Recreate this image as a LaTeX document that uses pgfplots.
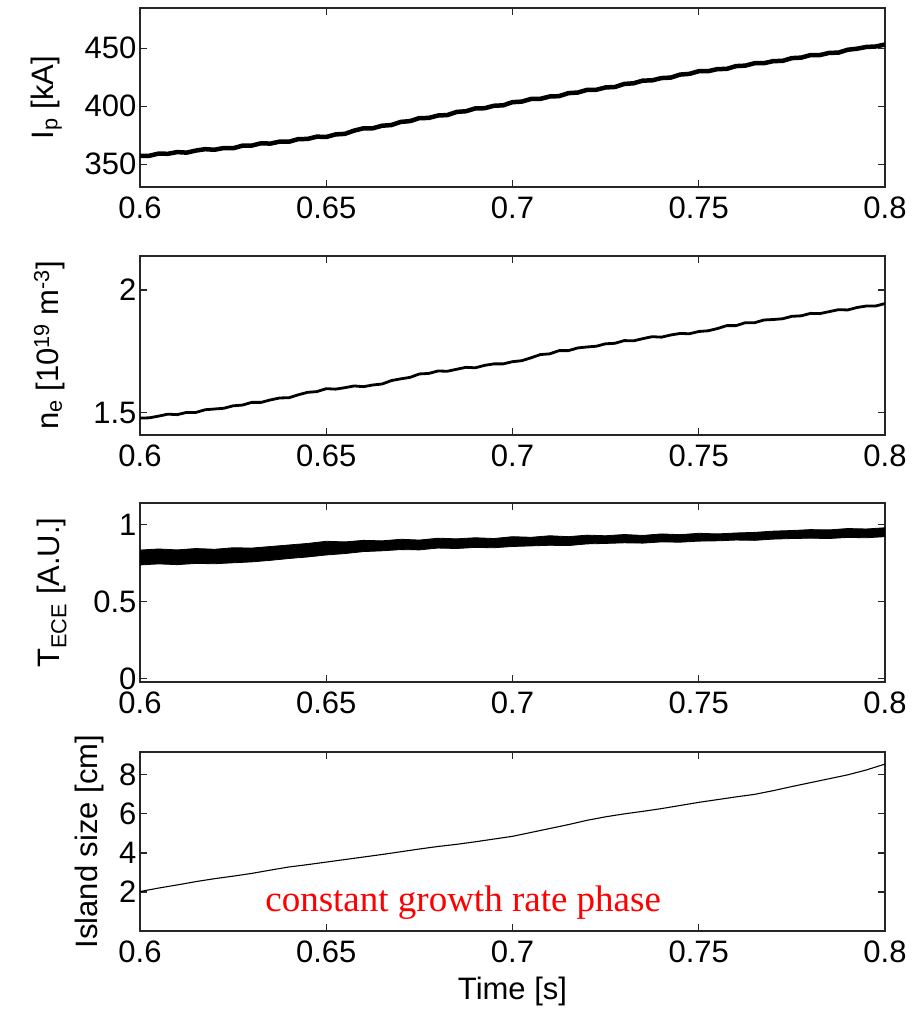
\documentclass[border=0pt]{standalone}
\usepackage{pgfplots}
\pgfplotsset{compat=1.18}
\usepackage{fontspec}
\setmainfont{Liberation Sans}
\newfontfamily\serifrm{Liberation Serif}
\begin{document}
\begin{tikzpicture}
\useasboundingbox (0pt,0pt) rectangle (919pt,1011pt);
\pgfplotsset{
 panel/.style={
  scale only axis, width=745pt, height=179pt,
  xmin=0.6, xmax=0.8,
  xtick={0.6,0.65,0.7,0.75,0.8},
  xticklabels={0.6,0.65,0.7,0.75,0.8},
  tick align=inside, major tick length=7pt,
  axis line style={line width=1.2pt, black!85},
  major tick style={line width=1.2pt, black!85},
  tick label style={font=\fontsize{31}{31}\selectfont},
  label style={font=\fontsize{31}{31}\selectfont},
  xticklabel style={yshift=-6pt},
  xlabel style={yshift=-8pt},
  ylabel shift=16pt,
  anchor=south west,
  clip=true,
 }
}
% ---------- Panel 1: plasma current ----------
\begin{axis}[panel, at={(140pt,824pt)}, ymin=330.4, ymax=484.7,
  ytick={350,400,450}, yticklabels={350,400,450},
  ylabel={I\textsubscript{p} [kA]}]
\addplot[black, line width=4.5pt, line join=round] table {
0.6000 357.2
0.6025 357.3
0.6050 359.2
0.6075 359.0
0.6100 360.5
0.6125 360.0
0.6150 361.8
0.6175 363.0
0.6200 362.5
0.6225 364.0
0.6250 363.8
0.6275 366.0
0.6300 366.1
0.6325 368.1
0.6350 367.8
0.6375 369.5
0.6400 369.4
0.6425 371.7
0.6450 371.8
0.6475 373.8
0.6500 373.5
0.6525 375.7
0.6550 376.2
0.6575 379.0
0.6600 381.0
0.6625 381.0
0.6650 383.2
0.6675 383.8
0.6700 386.5
0.6725 387.2
0.6750 389.8
0.6775 389.9
0.6800 392.0
0.6825 392.4
0.6850 395.1
0.6875 395.7
0.6900 398.1
0.6925 398.3
0.6950 400.4
0.6975 400.8
0.7000 403.5
0.7025 404.0
0.7050 406.3
0.7075 406.4
0.7100 408.4
0.7125 408.7
0.7150 411.3
0.7175 411.8
0.7200 414.1
0.7225 414.2
0.7250 416.2
0.7275 416.6
0.7300 419.2
0.7325 419.8
0.7350 422.1
0.7375 422.3
0.7400 424.3
0.7425 424.7
0.7450 427.3
0.7475 427.9
0.7500 430.2
0.7525 430.2
0.7550 432.0
0.7575 432.2
0.7600 434.6
0.7625 435.0
0.7650 437.1
0.7675 437.1
0.7700 438.9
0.7725 439.1
0.7750 441.5
0.7775 441.9
0.7800 444.1
0.7825 444.1
0.7850 446.0
0.7875 446.2
0.7900 448.7
0.7925 449.6
0.7950 451.1
0.7975 451.5
0.8000 453.2
};
\end{axis}
% ---------- Panel 2: density ----------
\begin{axis}[panel, at={(140pt,576pt)}, ymin=1.409, ymax=2.139,
  ytick={1.5,2}, yticklabels={1.5,2}, ylabel shift=22pt,
  ylabel={n\textsubscript{e} [10\textsuperscript{19} m\textsuperscript{-3}]}]
\addplot[black, line width=2.8pt, line join=round] table {
0.6000 1.478
0.6025 1.479
0.6050 1.486
0.6075 1.494
0.6100 1.492
0.6125 1.501
0.6150 1.501
0.6175 1.512
0.6200 1.515
0.6225 1.518
0.6250 1.528
0.6275 1.531
0.6300 1.542
0.6325 1.542
0.6350 1.552
0.6375 1.560
0.6400 1.561
0.6425 1.573
0.6450 1.583
0.6475 1.586
0.6500 1.598
0.6525 1.596
0.6550 1.602
0.6575 1.609
0.6600 1.606
0.6625 1.613
0.6650 1.617
0.6675 1.631
0.6700 1.638
0.6725 1.644
0.6750 1.658
0.6775 1.660
0.6800 1.670
0.6825 1.669
0.6850 1.677
0.6875 1.685
0.6900 1.683
0.6925 1.693
0.6950 1.699
0.6975 1.699
0.7000 1.708
0.7025 1.712
0.7050 1.724
0.7075 1.737
0.7100 1.740
0.7125 1.753
0.7150 1.753
0.7175 1.764
0.7200 1.768
0.7225 1.771
0.7250 1.781
0.7275 1.783
0.7300 1.794
0.7325 1.793
0.7350 1.802
0.7375 1.810
0.7400 1.808
0.7425 1.817
0.7450 1.823
0.7475 1.822
0.7500 1.831
0.7525 1.834
0.7550 1.843
0.7575 1.855
0.7600 1.855
0.7625 1.867
0.7650 1.867
0.7675 1.878
0.7700 1.880
0.7725 1.883
0.7750 1.893
0.7775 1.895
0.7800 1.905
0.7825 1.904
0.7850 1.912
0.7875 1.920
0.7900 1.919
0.7925 1.929
0.7950 1.935
0.7975 1.935
0.8000 1.945
};
\end{axis}
% ---------- Panel 3: ECE temperature (noise band) ----------
\begin{axis}[panel, at={(140pt,329pt)}, ymin=-0.023, ymax=1.141,
  ytick={0,0.5,1}, yticklabels={0,0.5,1}, ylabel shift=20pt,
  ylabel={T\textsubscript{ECE} [A.U.]}]
\addplot[black, fill=black, line width=0.8pt, line join=round] table {
0.600 0.835
0.605 0.842
0.610 0.836
0.615 0.845
0.620 0.840
0.625 0.850
0.630 0.848
0.635 0.858
0.640 0.868
0.645 0.878
0.650 0.892
0.655 0.888
0.660 0.898
0.665 0.895
0.670 0.905
0.675 0.900
0.680 0.912
0.685 0.908
0.690 0.915
0.695 0.910
0.700 0.922
0.705 0.918
0.710 0.928
0.715 0.922
0.720 0.932
0.725 0.928
0.730 0.936
0.735 0.930
0.740 0.940
0.745 0.935
0.750 0.944
0.755 0.940
0.760 0.946
0.765 0.950
0.770 0.958
0.775 0.962
0.780 0.968
0.785 0.966
0.790 0.975
0.795 0.972
0.800 0.980
0.800 0.922
0.795 0.915
0.790 0.917
0.785 0.910
0.780 0.912
0.775 0.910
0.770 0.906
0.765 0.898
0.760 0.900
0.755 0.895
0.750 0.893
0.745 0.886
0.740 0.888
0.735 0.880
0.730 0.882
0.725 0.878
0.720 0.875
0.715 0.864
0.710 0.866
0.705 0.862
0.700 0.858
0.695 0.850
0.690 0.852
0.685 0.845
0.680 0.848
0.675 0.836
0.670 0.838
0.665 0.830
0.660 0.825
0.655 0.812
0.650 0.803
0.645 0.790
0.640 0.780
0.635 0.768
0.630 0.758
0.625 0.752
0.620 0.746
0.615 0.748
0.610 0.740
0.605 0.745
0.600 0.738
} -- cycle;
\end{axis}
% ---------- Panel 4: island size ----------
\begin{axis}[panel, at={(140pt,80pt)}, ymin=0, ymax=9.17,
  ytick={2,4,6,8}, yticklabels={2,4,6,8},
  ylabel={Island size [cm]}, xlabel={Time [s]}, ylabel shift=8pt]
\addplot[black, line width=1.1pt] table {
0.600 2.02
0.605 2.20
0.610 2.36
0.615 2.53
0.620 2.68
0.625 2.81
0.630 2.95
0.635 3.12
0.640 3.28
0.645 3.40
0.650 3.53
0.655 3.66
0.660 3.79
0.665 3.92
0.670 4.06
0.675 4.20
0.680 4.33
0.685 4.44
0.690 4.57
0.695 4.71
0.700 4.85
0.705 5.05
0.710 5.25
0.715 5.45
0.720 5.67
0.725 5.85
0.730 6.00
0.735 6.13
0.740 6.27
0.745 6.43
0.750 6.59
0.755 6.73
0.760 6.87
0.765 7.00
0.770 7.19
0.775 7.40
0.780 7.60
0.785 7.80
0.790 8.00
0.795 8.25
0.800 8.55
};
\node[anchor=base west, inner sep=0pt, text=red, font=\serifrm\fontsize{37}{37}\selectfont]
  at (axis cs:0.6336,1.0) {constant growth rate phase};
\end{axis}
\end{tikzpicture}
\end{document}
